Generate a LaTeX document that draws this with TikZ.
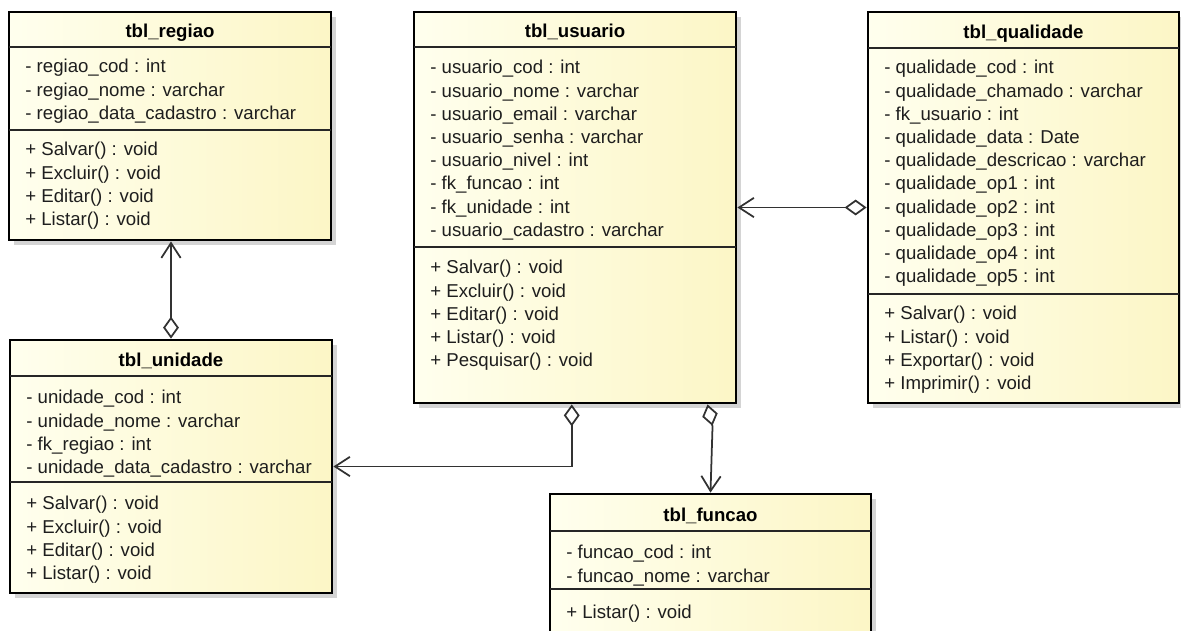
\documentclass[tikz,border=0pt]{standalone}
\usepackage{fontspec}
\setmainfont{Liberation Sans}
\usepackage{tikz}
\usetikzlibrary{
  arrows.meta,
  positioning,
  calc,
  fit,
}
\definecolor{umlCream}  {RGB}{255, 255, 238}
\definecolor{umlButter} {RGB}{252, 246, 198}
\definecolor{umlShadow} {RGB}{212, 212, 212}
\definecolor{umlInk}    {RGB}{ 30,  30,  30}
\definecolor{umlWire}   {RGB}{ 50,  50,  50}

% one class box: name, left, top, right, bottom (px), title rule, attribute rule, title
\newcommand{\umlclass}[8]{%
  \fill[umlShadow] ({#2+5},{#3+5}) rectangle ({#4+5},{#5+5});
  \node[classbox, fit={(#2,#3) (#4,#5)}] (#1) {};
  \draw[rule] (#2,#6) -- (#4,#6);
  \draw[rule] (#2,#7) -- (#4,#7);
  \node[classtitle] (#1-title) at ({(#2+#4)/2},{#6-10}) {#8};
}

\begin{document}
\begin{tikzpicture}[
  x=0.02cm, y=-0.02cm,
  font=\fontsize{10.6}{13.2}\selectfont,
  classbox/.style={draw=black, line width=1.6pt, inner sep=0pt,
    left color=umlCream, right color=umlButter},
  rule/.style={draw=black!85, line width=0.9pt},
  classtitle/.style={anchor=base, inner sep=0pt, font=\fontsize{10.6}{13.2}\selectfont\bfseries},
  members/.style={anchor=north west, inner sep=0pt, align=left, text=umlInk,
    execute at begin node={\rule{0pt}{10pt}}},
  assoc/.style={draw=umlWire, line width=1pt,
    arrows={Diamond[open, length=12.5pt, width=9pt]-Straight Barb[length=8.5pt, width=11pt]}},
]
  % Page: 1181 x 630 px, 0 at top
  \clip (0,0) rectangle (1181,630);

  % Classes
  \umlclass{regiao}{9}{12}{331}{240}{47}{130}{tbl\_regiao}
  \umlclass{unidade}{10}{340}{332}{593}{376}{482}{tbl\_unidade}
  \umlclass{usuario}{414}{12}{736}{403}{47}{247}{tbl\_usuario}
  \umlclass{qualidade}{868}{12}{1179}{403}{48}{294}{tbl\_qualidade}
  \umlclass{funcao}{550}{494}{871}{650}{531}{589}{tbl\_funcao}

  % Members (top of each block = rule + 12)
  \node[members] (regiao-attr) at (25,59)
    {- regiao\_cod : int\\- regiao\_nome : varchar\\- regiao\_data\_cadastro : varchar};
  \node[members] (regiao-ops) at (25,142)
    {+ Salvar() : void\\+ Excluir() : void\\+ Editar() : void\\+ Listar() : void};

  \node[members] (unidade-attr) at (26,390)
    {- unidade\_cod : int\\- unidade\_nome : varchar\\- fk\_regiao : int\\- unidade\_data\_cadastro : varchar};
  \node[members] (unidade-ops) at (26,496)
    {+ Salvar() : void\\+ Excluir() : void\\+ Editar() : void\\+ Listar() : void};

  \node[members] (usuario-attr) at (430,60)
    {- usuario\_cod : int\\- usuario\_nome : varchar\\- usuario\_email : varchar\\- usuario\_senha : varchar\\
     - usuario\_nivel : int\\- fk\_funcao : int\\- fk\_unidade : int\\- usuario\_cadastro : varchar};
  \node[members] (usuario-ops) at (430,260)
    {+ Salvar() : void\\+ Excluir() : void\\+ Editar() : void\\+ Listar() : void\\+ Pesquisar() : void};

  \node[members] (qualidade-attr) at (884,60)
    {- qualidade\_cod : int\\- qualidade\_chamado : varchar\\- fk\_usuario : int\\- qualidade\_data : Date\\
     - qualidade\_descricao : varchar\\- qualidade\_op1 : int\\- qualidade\_op2 : int\\- qualidade\_op3 : int\\
     - qualidade\_op4 : int\\- qualidade\_op5 : int};
  \node[members] (qualidade-ops) at (884,306)
    {+ Salvar() : void\\+ Listar() : void\\+ Exportar() : void\\+ Imprimir() : void};

  \node[members] (funcao-attr) at (566,545)
    {- funcao\_cod : int\\- funcao\_nome : varchar};
  \node[members] (funcao-ops) at (566,601)
    {+ Listar() : void};

  % Associations (diamond on the owner side)
  \draw[assoc] (unidade.north) -- (unidade.north |- regiao.south);
  \draw[assoc] ($(usuario.south west)!0.49!(usuario.south east)$) |- (unidade.east);
  \draw[assoc] (qualidade.west) -- (usuario.east);
  \draw[assoc] ($(usuario.south west)!0.908!(usuario.south east)$) -- ++(5,22) -- (funcao.north);

\end{tikzpicture}
\end{document}
